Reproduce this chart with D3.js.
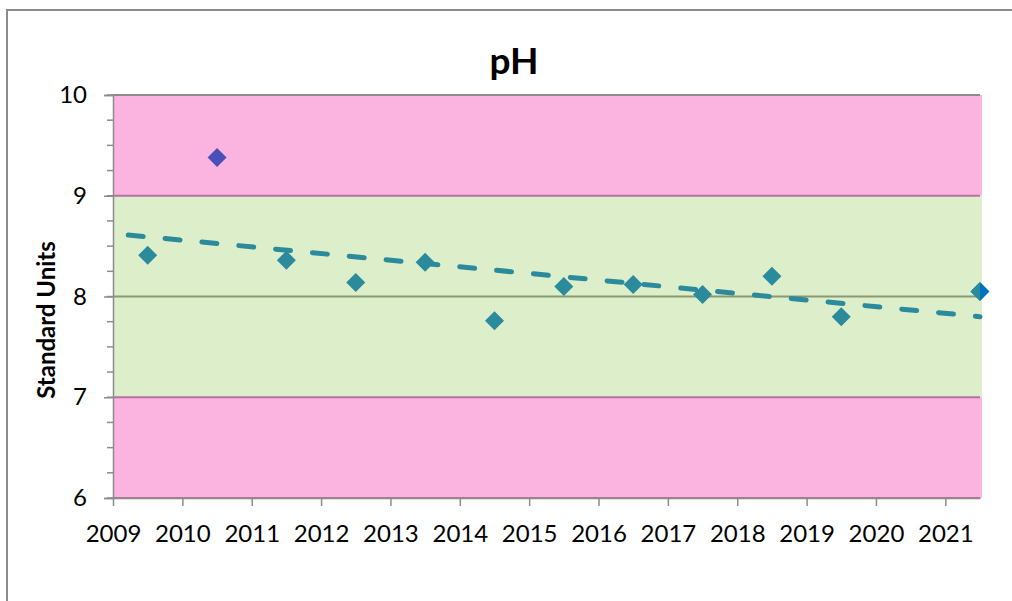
<!DOCTYPE html>
<meta charset="utf-8">
<style>
 body { margin: 0; background: #fff; }
 svg { display: block; font-family: Lato, "Open Sans", sans-serif; }
 .tick text { font-size: 24px; fill: #000; }
</style>
<body>
<script src="https://cdn.jsdelivr.net/npm/d3@7"></script>
<script>

 // pH readings, plotted mid-year
 var years = [2009.5, 2010.5, 2011.5, 2012.5, 2013.5, 2014.5, 2015.5, 2016.5, 2017.5, 2018.5, 2019.5, 2021.5];
 var phValues = [8.41, 9.38, 8.36, 8.14, 8.34, 7.76, 8.10, 8.12, 8.02, 8.20, 7.80, 8.05];
 // which points are out of range (drawn in another colour)
 var outliers = [false, true, false, false, false, false, false, false, false, false, false, false];

 // latest reading (drawn again as its own series)
 var latestYear = [2021.5];
 var latestValue = [8.05];

 // trend line ends
 var trendYears = [2009.22, 2021.5];
 var trendValues = [8.61, 7.80];

 // background bands
 var bandLow = [9, 7, 6];
 var bandHigh = [10, 9, 7];
 var bandKind = ["out", "ok", "out"];

 var xTicks = d3.range(2009, 2022);
 var yTicks = [6, 7, 8, 9, 10];

 var W = 1012, H = 601;
 var margin = {top: 95, right: 32, bottom: 103, left: 113};

 var svg = d3.select("body").append("svg")
     .attr("width", W)
     .attr("height", H);

 // outer chart frame, it runs off the right and bottom of the picture
 svg.append("rect")
    .attr("x", 7).attr("y", 10)
    .attr("width", W + 20).attr("height", H + 20)
    .attr("fill", "#fff")
    .attr("stroke", "#8c8c8c")
    .attr("stroke-width", 2);

 var x = d3.scaleLinear()
           .domain([2009, 2021.5])
           .range([margin.left, W - margin.right]);

 var y = d3.scaleLinear()
           .domain([6, 10])
           .range([H - margin.bottom, margin.top]);

 svg.append("defs").append("clipPath")
    .attr("id", "plot")
    .append("rect")
    .attr("x", x.range()[0]).attr("y", y.range()[1])
    .attr("width", x.range()[1] - x.range()[0])
    .attr("height", y.range()[0] - y.range()[1]);

 var bands = bandLow.map(function(d, i) { return {lo: d, hi: bandHigh[i], kind: bandKind[i]}; });

 svg.append("g").selectAll("rect")
    .data(bands)
    .enter().append("rect")
    .attr("x", x(2009))
    .attr("width", x(2021.5) - x(2009) + 2)
    .attr("y", function(d) { return y(d.hi); })
    .attr("height", function(d) { return y(d.lo) - y(d.hi); })
    .attr("fill", function(d) { return d.kind == "out" ? "#fbb4e0" : "#ddeeca"; });

 // band edges
 svg.append("g").selectAll("line")
    .data([9, 7, 6])
    .enter().append("line")
    .attr("x1", x(2009)).attr("x2", x(2021.5))
    .attr("y1", function(d) { return y(d); })
    .attr("y2", function(d) { return y(d); })
    .attr("stroke", "#b9719f")
    .attr("stroke-width", 2);

 // gridlines at 10 and 8
 svg.append("g").selectAll("line")
    .data([10, 8])
    .enter().append("line")
    .attr("x1", x(2009)).attr("x2", x(2021.5))
    .attr("y1", function(d) { return y(d); })
    .attr("y2", function(d) { return y(d); })
    .attr("stroke", function(d) { return d == 10 ? "#8c8c8c" : "#8a9a70"; })
    .attr("stroke-width", 2);

 // y axis, major + minor ticks
 var gY = svg.append("g")
     .attr("transform", "translate(" + x(2009) + ",0)");

 gY.selectAll(".minor")
   .data(d3.range(6, 10.01, 0.25))
   .enter().append("line")
   .attr("class", "minor")
   .attr("x1", -6).attr("x2", 0)
   .attr("y1", function(d) { return y(d); })
   .attr("y2", function(d) { return y(d); })
   .attr("stroke", "#8c8c8c")
   .attr("stroke-width", 1.5);

 gY.call(d3.axisLeft(y).tickValues(yTicks).tickFormat(d3.format("d")).tickSize(9).tickPadding(17))
   .attr("font-family", null).attr("font-size", null)
   .call(function(g) {
     g.select(".domain").attr("stroke", "#8c8c8c").attr("stroke-width", 1.5);
     g.selectAll(".tick line").attr("stroke", "#8c8c8c").attr("stroke-width", 1.5);
   });

 // x axis
 svg.append("g")
    .attr("transform", "translate(0," + y(6) + ")")
    .call(d3.axisBottom(x).tickValues(xTicks).tickFormat(d3.format("d")).tickSize(8).tickSizeOuter(0))
    .attr("font-family", null).attr("font-size", null)
    .call(function(g) {
      g.select(".domain").attr("stroke", "#8c8c8c").attr("stroke-width", 1.5);
      g.selectAll(".tick line").attr("stroke", "#8c8c8c").attr("stroke-width", 1.5);
      g.selectAll(".tick text").attr("y", 44).attr("dy", 0);
    });

 var diamond = "M0,-9.5L9.5,0L0,9.5L-9.5,0Z";

 // latest reading, not clipped so it shows past the plot edge
 svg.append("g").selectAll("path")
    .data(latestYear.map(function(d, i) { return {year: d, ph: latestValue[i]}; }))
    .enter().append("path")
    .attr("d", diamond)
    .attr("transform", function(d) { return "translate(" + x(d.year) + "," + y(d.ph) + ")"; })
    .attr("fill", "#0070c0");

 // trend line
 var trend = trendYears.map(function(d, i) { return {year: d, ph: trendValues[i]}; });
 svg.append("path")
    .datum(trend)
    .attr("fill", "none")
    .attr("stroke", "#2b8a9c")
    .attr("stroke-width", 5)
    .attr("stroke-linecap", "round")
    .attr("stroke-dasharray", "15,22")
    .attr("d", d3.line()
                 .x(function(d) { return x(d.year); })
                 .y(function(d) { return y(d.ph); }));

 // the readings
 var points = years.map(function(d, i) { return {year: d, ph: phValues[i], out: outliers[i]}; });
 svg.append("g")
    .attr("clip-path", "url(#plot)")
    .selectAll("path")
    .data(points)
    .enter().append("path")
    .attr("d", diamond)
    .attr("transform", function(d) { return "translate(" + x(d.year) + "," + y(d.ph) + ")"; })
    .attr("fill", function(d) { return d.out ? "#4a50b8" : "#2b8a9c"; });

 // title
 svg.append("text")
    .attr("x", 514).attr("y", 74)
    .attr("text-anchor", "middle")
    .attr("font-size", 37)
    .attr("font-weight", "bold")
    .text("pH");

 // y axis title
 svg.append("text")
    .attr("transform", "translate(55,320) rotate(-90)")
    .attr("text-anchor", "middle")
    .attr("font-size", 24)
    .attr("font-weight", "bold")
    .text("Standard Units");

</script>
